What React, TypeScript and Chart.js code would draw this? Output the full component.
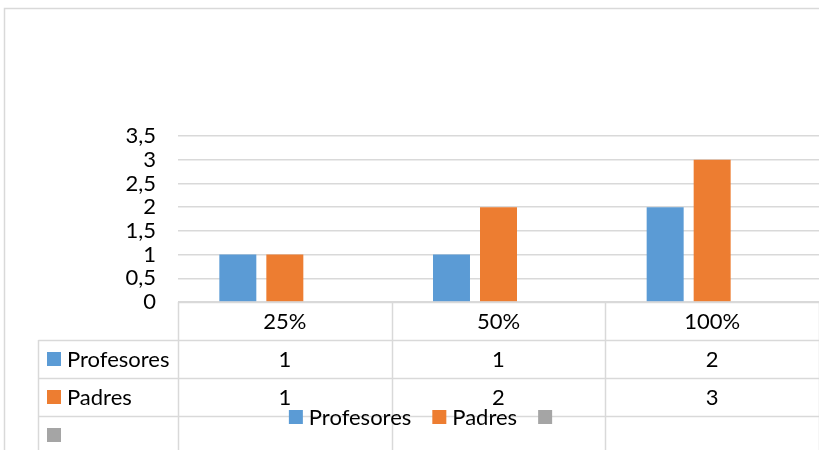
import React, { useEffect, useRef } from "react";
import { Chart, registerables } from "chart.js";

Chart.register(...registerables);

const categories = ["25%", "50%", "100%"];
const profesores = [1, 1, 2];
const padres = [1, 2, 3];
const tercera: (number | null)[] = [null, null, null];
const seriesNames = ["Profesores", "Padres", ""];
const yMax = 3.5;
const yStep = 0.5;

const COLORS = ["#5B9BD5", "#ED7D31", "#A5A5A5"];
const FONT_FAMILY = "Lato, 'Noto Sans', sans-serif";
const FONT_SIZE = 22;
const LINE = "#d9d9d9";

const tablePlugin = {
  id: "dataTable",
  afterDraw(chart: any) {
    const ctx: CanvasRenderingContext2D = chart.ctx;
    const xs = chart.scales.x;
    const area = chart.chartArea;
    const rowH = 38;
    const top = area.bottom;
    const left = area.left;
    const right = area.right;
    const tableLeft = 38.5;
    const n = categories.length;
    const seriesData = [profesores, padres, tercera];

    ctx.save();
    ctx.strokeStyle = LINE;
    ctx.lineWidth = 1.5;
    ctx.strokeRect(4.5, 8.5, 900, 500);

    const line = (x1: number, y1: number, x2: number, y2: number) => {
      ctx.beginPath();
      ctx.moveTo(x1, y1);
      ctx.lineTo(x2, y2);
      ctx.stroke();
    };
    line(left, top + 0.5, right, top + 0.5);
    for (let i = 1; i <= 3; i++) {
      const yy = Math.round(top + i * rowH) + 0.5;
      line(tableLeft, yy, right, yy);
    }
    for (let i = 0; i <= n; i++) {
      const xb = Math.round(left + (i * (right - left)) / n) + 0.5;
      line(xb, top, xb, 470);
    }
    line(tableLeft, top + rowH, tableLeft, 470);

    ctx.font = `${FONT_SIZE}px ${FONT_FAMILY}`;
    ctx.fillStyle = "#000";
    ctx.textBaseline = "middle";
    ctx.textAlign = "center";
    categories.forEach((c, i) => {
      ctx.fillText(c, xs.getPixelForValue(i), top + rowH / 2 + 1);
    });
    seriesNames.forEach((name, s) => {
      const cy = top + rowH * (s + 1) + rowH / 2;
      ctx.fillStyle = COLORS[s];
      ctx.fillRect(47, cy - 7, 14, 14);
      ctx.fillStyle = "#000";
      ctx.textAlign = "left";
      ctx.fillText(name, 67, cy + 1);
      ctx.textAlign = "center";
      seriesData[s].forEach((v, i) => {
        if (v !== null && v !== undefined) {
          ctx.fillText(String(v), xs.getPixelForValue(i), cy + 1);
        }
      });
    });

    // legend
    const sq = 14;
    const gapAfterSq = 6;
    const gapItems = 21;
    const widths = seriesNames.map(
      (nm) => sq + (nm ? gapAfterSq + ctx.measureText(nm).width : 0)
    );
    const total = widths.reduce((a, b) => a + b, 0) + gapItems * (widths.length - 1);
    let lx = 420.5 - total / 2;
    const ly = 417;
    seriesNames.forEach((nm, s) => {
      ctx.fillStyle = COLORS[s];
      ctx.fillRect(lx, ly - 7, sq, sq);
      ctx.fillStyle = "#000";
      ctx.textAlign = "left";
      if (nm) ctx.fillText(nm, lx + sq + gapAfterSq, ly + 1);
      lx += widths[s] + gapItems;
    });
    ctx.restore();
  },
};

export default function App() {
  const ref = useRef<HTMLCanvasElement | null>(null);
  useEffect(() => {
    if (!ref.current) return;
    const chart = new Chart(ref.current, {
      type: "bar",
      data: {
        labels: categories,
        datasets: [
          { label: seriesNames[0], data: profesores, backgroundColor: COLORS[0] },
          { label: seriesNames[1], data: padres, backgroundColor: COLORS[1] },
          { label: seriesNames[2], data: tercera, backgroundColor: COLORS[2] },
        ],
      },
      options: {
        responsive: false,
        animation: false,
        events: [],
        datasets: {
          bar: { categoryPercentage: 0.66, barPercentage: 0.787 },
        },
        layout: { padding: { left: 0, right: 0, top: 136, bottom: 148 } },
        plugins: {
          legend: { display: false },
          tooltip: { enabled: false },
          title: { display: false },
        },
        scales: {
          x: { display: false },
          y: {
            min: 0,
            max: yMax,
            border: { display: false },
            grid: { color: LINE, lineWidth: 1.5, drawTicks: false },
            ticks: {
              stepSize: yStep,
              autoSkip: false,
              padding: 22,
              color: "#000",
              font: { family: FONT_FAMILY, size: FONT_SIZE, lineHeight: 1 },
              callback: (v: any) => String(v).replace(".", ","),
            },
            afterFit: (scale: any) => {
              scale.width = 178;
            },
          },
        },
      },
      plugins: [tablePlugin],
    } as any);
    return () => chart.destroy();
  }, []);
  return (
    <div style={{ position: "fixed", left: 0, top: 0, width: 819, height: 450, background: "#fff" }}>
      <canvas ref={ref} width={819} height={450} style={{ display: "block" }} />
    </div>
  );
}
